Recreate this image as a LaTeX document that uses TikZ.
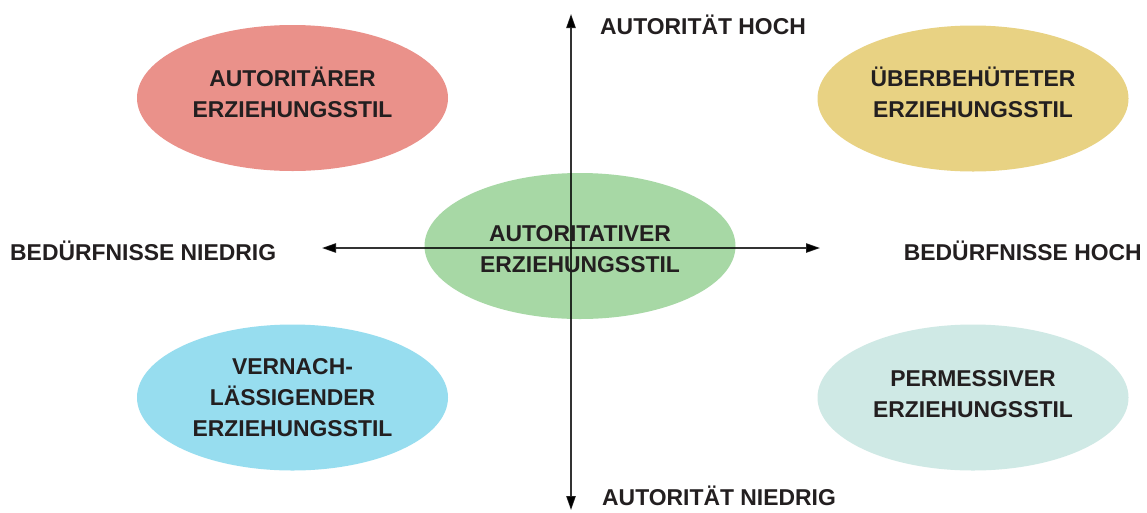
\documentclass[tikz,border=0pt]{standalone}
\usepackage{fontspec}
\setmainfont{Liberation Sans}
\usetikzlibrary{shapes.geometric,arrows.meta}
\definecolor{txt}{HTML}{231F20}
\definecolor{cred}{HTML}{EA918A}
\definecolor{cyel}{HTML}{E8D283}
\definecolor{cgrn}{HTML}{A7D8A5}
\definecolor{cblu}{HTML}{97DDEF}
\definecolor{ctea}{HTML}{CFE9E5}
\tikzset{
  stilbox/.style={ellipse, draw=none, minimum width=311pt, minimum height=146pt, inner sep=0pt},
  stiltext/.style={align=center, text=txt, inner sep=0pt, font=\fontsize{22.9}{31}\selectfont\bfseries},
  axis/.style={draw=black, draw opacity=0.8, line width=1.2pt, {Triangle[length=14pt,width=9.5pt]}-{Triangle[length=14pt,width=9.5pt]}},
  axlabel/.style={text=txt, inner sep=0pt, font=\fontsize{22.9}{26}\selectfont\bfseries},
}
\begin{document}
\begin{tikzpicture}[x=1pt,y=-1pt]
\useasboundingbox[fill=white] (0,0) rectangle (1147,512);
\node[stilbox, fill=cred] (autoritaer) at (292.5,98) {};
\node[stilbox, fill=cyel] (ueberbehuetet) at (973,98.5) {};
\node[stilbox, fill=cblu] (vernachlaessigend) at (292.5,397.5) {};
\node[stilbox, fill=ctea] (permissiv) at (973,397.5) {};
\node[stilbox, fill=cgrn] (autoritativ) at (580,246) {};
\coordinate (vtop) at (571,14);
\coordinate (vbot) at (571,510);
\coordinate (hleft) at (322,248);
\coordinate (hright) at (820,248);
\draw[axis] (vbot) -- (vtop);
\draw[axis] (hleft) -- (hright);
\node[stiltext] (autoritaer-t) at ([yshift=6pt]autoritaer.center) {AUTORITÄRER\\ERZIEHUNGSSTIL};
\node[stiltext] (ueberbehuetet-t) at ([yshift=6pt]ueberbehuetet.center) {ÜBERBEHÜTETER\\ERZIEHUNGSSTIL};
\node[stiltext] (vernachlaessigend-t) at (vernachlaessigend.center) {VERNACH-\\LÄSSIGENDER\\ERZIEHUNGSSTIL};
\node[stiltext] (permissiv-t) at ([yshift=3pt]permissiv.center) {PERMESSIVER\\ERZIEHUNGSSTIL};
\node[stiltext] (autoritativ-t) at ([yshift=-3pt]autoritativ.center) {AUTORITATIVER\\ERZIEHUNGSSTIL};
\node[axlabel, anchor=base west] (ahoch) at (600,34) {AUTORITÄT HOCH};
\node[axlabel, anchor=base west] (aniedrig) at (602,505) {AUTORITÄT NIEDRIG};
\node[axlabel, anchor=base west] (bniedrig) at (10,260) {BEDÜRFNISSE NIEDRIG};
\node[axlabel, anchor=base east] (bhoch) at (1142,260) {BEDÜRFNISSE HOCH};
\end{tikzpicture}
\end{document}
